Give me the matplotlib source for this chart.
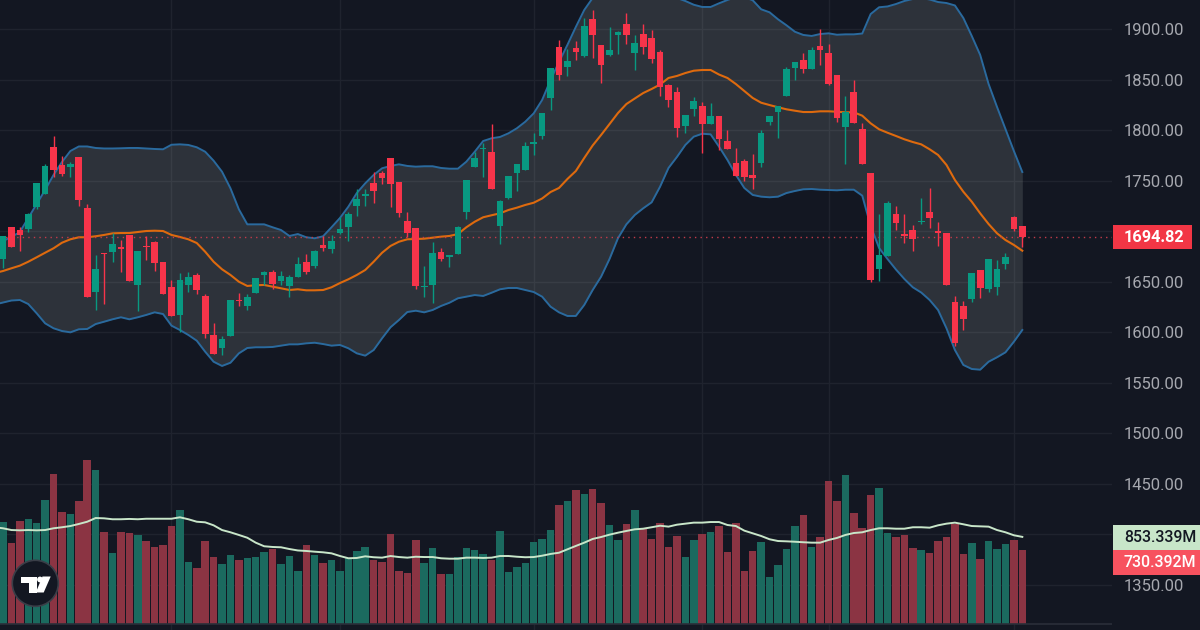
import numpy as np
import matplotlib
matplotlib.use('Agg')
import matplotlib.pyplot as plt
from matplotlib.patches import Rectangle, Ellipse, Polygon

# Velas
opens = [1672.9, 1704.0, 1701.3, 1702.0, 1723.8, 1737.2, 1783.5, 1765.7, 1764.0, 1773.6,
         1723.1, 1639.9, 1678.8, 1679.5, 1684.5, 1696.4, 1646.6, 1685.5, 1689.1, 1669.6,
         1644.6, 1617.1, 1646.6, 1656.7, 1636.0, 1597.3, 1584.5, 1596.4, 1632.3, 1626.1,
         1638.9, 1656.7, 1659.4, 1650.8, 1645.9, 1655.1, 1669.3, 1666.0, 1686.5, 1682.5,
         1698.0, 1704.0, 1725.1, 1734.7, 1748.1, 1757.4, 1772.3, 1749.1, 1710.2, 1703.0,
         1644.6, 1646.6, 1679.5, 1674.3, 1677.8, 1719.1, 1764.0, 1781.5, 1778.8, 1705.6,
         1732.7, 1757.7, 1760.7, 1786.4, 1794.7, 1832.0, 1882.5, 1862.7, 1881.5, 1873.9,
         1910.2, 1884.2, 1874.5, 1894.6, 1904.9, 1876.5, 1895.3, 1891.1, 1877.2, 1844.6,
         1837.9, 1804.3, 1821.4, 1824.1, 1806.5, 1813.9, 1789.1, 1767.6, 1769.3, 1755.7,
         1767.9, 1808.5, 1818.1, 1833.7, 1861.7, 1869.3, 1860.4, 1883.5, 1876.2, 1854.8,
         1803.0, 1838.2, 1801.3, 1757.4, 1663.0, 1675.3, 1716.8, 1697.3, 1701.0, 1708.9,
         1718.8, 1700.0, 1698.3, 1629.7, 1626.1, 1632.7, 1661.4, 1642.9, 1644.9, 1667.6,
         1714.2, 1705.6]
closes = [1695.4, 1684.8, 1696.4, 1716.8, 1747.5, 1765.0, 1760.7, 1756.7, 1766.6, 1731.0,
          1635.3, 1663.0, 1677.5, 1687.4, 1682.5, 1651.1, 1680.5, 1684.5, 1669.0, 1638.2,
          1615.9, 1651.8, 1654.8, 1641.9, 1598.3, 1578.8, 1593.4, 1631.7, 1630.7, 1635.3,
          1653.8, 1659.4, 1648.1, 1655.8, 1654.8, 1667.6, 1659.4, 1680.5, 1683.8, 1690.7,
          1702.0, 1716.8, 1731.7, 1736.9, 1739.9, 1752.8, 1746.8, 1717.8, 1698.3, 1645.9,
          1645.9, 1678.5, 1672.6, 1676.8, 1704.0, 1751.1, 1772.6, 1782.5, 1742.2, 1729.7,
          1754.8, 1766.6, 1784.5, 1788.1, 1816.8, 1862.0, 1855.0, 1868.6, 1877.5, 1903.3,
          1894.1, 1864.4, 1879.8, 1897.3, 1894.1, 1886.4, 1882.8, 1870.9, 1843.2, 1830.3,
          1802.3, 1814.9, 1829.0, 1805.9, 1814.2, 1791.4, 1781.8, 1754.8, 1753.8, 1753.1,
          1797.0, 1814.2, 1824.1, 1860.4, 1867.6, 1860.7, 1879.8, 1879.8, 1845.8, 1812.5,
          1818.4, 1807.5, 1766.9, 1652.1, 1676.6, 1728.0, 1708.5, 1695.7, 1692.1, 1709.9,
          1713.2, 1698.6, 1646.6, 1589.7, 1613.2, 1658.4, 1643.6, 1672.6, 1662.4, 1674.3,
          1702.0, 1694.82]
highs = [1695.4, 1704.0, 1704.6, 1718.1, 1747.5, 1766.6, 1794.4, 1774.6, 1768.6, 1773.6,
         1727.0, 1676.8, 1678.8, 1698.0, 1691.4, 1696.4, 1680.5, 1695.4, 1690.4, 1669.6,
         1651.8, 1658.4, 1659.4, 1658.4, 1637.9, 1608.9, 1596.4, 1631.7, 1638.9, 1637.9,
         1653.8, 1660.7, 1661.7, 1660.4, 1656.7, 1674.3, 1677.2, 1681.5, 1695.7, 1696.4,
         1713.9, 1719.4, 1741.9, 1741.9, 1758.7, 1759.4, 1772.3, 1749.1, 1718.8, 1703.0,
         1665.7, 1689.1, 1683.2, 1676.8, 1705.6, 1751.1, 1778.5, 1787.7, 1805.9, 1731.0,
         1754.8, 1766.6, 1788.1, 1797.3, 1816.8, 1862.0, 1889.4, 1880.5, 1888.4, 1911.2,
         1919.1, 1884.2, 1902.0, 1898.6, 1915.8, 1894.3, 1905.2, 1899.3, 1879.5, 1845.8,
         1842.6, 1814.9, 1832.7, 1828.0, 1827.0, 1813.9, 1800.3, 1782.5, 1771.9, 1776.2,
         1800.3, 1814.2, 1824.1, 1863.0, 1867.6, 1876.2, 1882.2, 1900.3, 1885.4, 1854.8,
         1833.7, 1849.5, 1807.5, 1757.4, 1716.8, 1729.7, 1725.1, 1716.8, 1706.5, 1733.0,
         1742.9, 1709.5, 1698.3, 1636.0, 1631.0, 1658.4, 1661.4, 1672.6, 1671.6, 1678.2,
         1715.2, 1705.6]
lows = [1664.0, 1684.8, 1680.8, 1699.6, 1721.8, 1737.2, 1753.5, 1755.1, 1754.1, 1725.4,
        1635.3, 1622.1, 1628.0, 1669.6, 1660.0, 1651.1, 1621.4, 1671.6, 1661.0, 1638.2,
        1615.9, 1600.6, 1639.9, 1638.2, 1594.7, 1578.8, 1577.5, 1596.4, 1626.1, 1622.1,
        1638.9, 1646.8, 1642.9, 1647.1, 1635.3, 1655.1, 1658.0, 1664.0, 1680.5, 1678.8,
        1697.3, 1690.1, 1715.2, 1725.1, 1728.0, 1746.5, 1724.4, 1714.5, 1694.1, 1642.9,
        1635.3, 1629.0, 1670.9, 1665.0, 1677.8, 1712.5, 1764.0, 1754.1, 1742.2, 1687.4,
        1731.7, 1740.2, 1760.7, 1775.5, 1791.1, 1819.8, 1850.1, 1853.8, 1869.9, 1872.9,
        1871.9, 1846.8, 1873.9, 1875.5, 1885.7, 1859.7, 1875.5, 1866.9, 1833.7, 1822.8,
        1793.7, 1797.6, 1814.5, 1777.8, 1806.5, 1780.8, 1781.8, 1754.8, 1750.1, 1741.9,
        1764.0, 1805.0, 1792.7, 1833.7, 1850.1, 1857.0, 1860.4, 1864.4, 1845.1, 1808.5,
        1766.9, 1806.9, 1766.9, 1650.1, 1651.1, 1675.3, 1701.0, 1688.1, 1680.8, 1707.2,
        1703.3, 1685.5, 1646.6, 1586.5, 1602.3, 1629.7, 1634.3, 1640.2, 1636.9, 1663.0,
        1700.3, 1684.8]

# Bandas de Bollinger y media de volumen: empiezan una vela antes, cortada por el borde
bb_upper = [1686.4,
            1690.4, 1694.4, 1699.3, 1713.2, 1727.0, 1740.9, 1755.8, 1768.6, 1779.5, 1784.0,
            1784.0, 1782.5, 1782.0, 1782.0, 1782.2, 1782.5, 1782.5, 1782.0, 1781.5, 1781.2,
            1785.7, 1786.1, 1785.5, 1783.2, 1778.8, 1769.9, 1759.0, 1742.6, 1721.8, 1706.9,
            1706.9, 1706.9, 1704.0, 1701.3, 1695.4, 1697.3, 1694.1, 1693.1, 1695.1, 1704.0,
            1713.2, 1724.4, 1737.9, 1747.5, 1755.8, 1762.4, 1764.7, 1766.3, 1764.7, 1764.0,
            1764.4, 1764.4, 1762.7, 1762.0, 1762.0, 1768.9, 1778.8, 1789.4, 1792.1, 1793.4,
            1797.0, 1802.0, 1808.5, 1816.8, 1830.0, 1849.8, 1867.6, 1884.5, 1902.3, 1919.1,
            1931.0, 1934.9, 1937.9, 1939.9, 1940.9, 1941.9, 1941.9, 1940.9, 1938.9, 1934.9,
            1931.0, 1928.0, 1924.3, 1922.1, 1922.1, 1925.7, 1929.0, 1932.0, 1932.0, 1928.7,
            1919.8, 1916.8, 1909.9, 1904.0, 1897.6, 1894.4, 1893.4, 1895.3, 1896.0, 1894.6,
            1895.0, 1895.0, 1895.8, 1915.1, 1921.8, 1922.6, 1925.0, 1928.0, 1930.0, 1931.0,
            1929.5, 1927.0, 1926.0, 1923.6, 1911.2, 1893.4, 1874.6, 1845.8, 1823.1, 1801.3,
            1779.5, 1758.7]
bb_mid = [1658.7,
          1660.7, 1663.4, 1666.0, 1669.9, 1674.3, 1678.8, 1683.2, 1688.7, 1692.1, 1694.1,
          1694.1, 1695.1, 1696.4, 1698.0, 1698.3, 1698.3, 1699.3, 1700.3, 1700.6, 1700.3,
          1696.4, 1694.4, 1692.1, 1688.4, 1679.8, 1669.9, 1662.4, 1656.8, 1650.1, 1645.9,
          1646.6, 1646.9, 1645.2, 1643.6, 1641.9, 1642.6, 1641.6, 1641.6, 1641.9, 1644.6,
          1648.8, 1652.5, 1656.8, 1661.7, 1669.9, 1678.8, 1685.5, 1689.7, 1692.1, 1692.4,
          1692.7, 1693.7, 1694.7, 1695.4, 1697.3, 1704.0, 1709.5, 1713.9, 1715.9, 1717.8,
          1721.1, 1723.4, 1726.1, 1728.3, 1732.5, 1738.9, 1742.9, 1751.8, 1759.7, 1772.6,
          1785.0, 1795.4, 1806.2, 1817.1, 1826.0, 1831.5, 1836.9, 1840.9, 1845.3, 1851.8,
          1853.8, 1856.7, 1859.0, 1859.7, 1859.7, 1855.2, 1851.8, 1845.8, 1838.9, 1832.0,
          1827.3, 1825.0, 1822.8, 1820.8, 1819.4, 1818.1, 1818.1, 1818.8, 1818.8, 1818.4,
          1817.8, 1817.8, 1814.5, 1806.9, 1801.0, 1797.6, 1794.4, 1791.1, 1788.4, 1786.1,
          1781.2, 1775.6, 1765.7, 1750.8, 1739.2, 1729.3, 1717.8, 1707.2, 1698.0, 1691.4,
          1686.5, 1680.8]
bb_lower = [1627.5,
            1629.5, 1631.5, 1632.0, 1628.0, 1618.8, 1608.9, 1604.0, 1601.3, 1600.0, 1603.0,
            1603.3, 1608.2, 1610.5, 1612.9, 1614.9, 1612.9, 1614.9, 1617.2, 1619.8, 1618.1,
            1606.6, 1602.3, 1597.4, 1591.7, 1580.8, 1570.9, 1566.7, 1569.9, 1579.2, 1584.5,
            1585.2, 1585.2, 1585.5, 1586.8, 1588.1, 1588.1, 1589.1, 1589.7, 1588.4, 1586.8,
            1587.5, 1584.2, 1579.2, 1576.9, 1582.5, 1594.1, 1605.0, 1612.2, 1620.1, 1621.4,
            1619.8, 1622.1, 1626.1, 1629.3, 1633.7, 1635.3, 1636.9, 1636.0, 1639.2, 1642.6,
            1643.9, 1643.9, 1641.9, 1639.9, 1635.3, 1625.4, 1619.8, 1616.2, 1616.2, 1627.1,
            1641.9, 1655.1, 1672.6, 1693.1, 1706.9, 1716.2, 1722.8, 1728.7, 1744.2, 1762.7,
            1773.6, 1785.5, 1793.7, 1796.6, 1796.0, 1783.8, 1770.6, 1755.8, 1742.9, 1736.0,
            1734.3, 1733.7, 1734.3, 1737.9, 1739.9, 1741.6, 1741.9, 1741.2, 1740.9, 1740.6,
            1741.2, 1741.2, 1735.3, 1705.3, 1683.5, 1672.6, 1662.2, 1652.8, 1644.6, 1639.4,
            1632.0, 1622.1, 1604.0, 1582.5, 1567.7, 1563.7, 1563.0, 1570.9, 1575.3, 1580.2,
            1590.7, 1602.3]

# Volumen en millones y su media
volume = [995, 794, 1005, 1030, 986, 1213, 1469, 1096, 1076, 1203,
          1605, 1505, 904, 693, 904, 894, 869, 813, 758, 774,
          959, 1112, 612, 550, 813, 657, 592, 674, 628, 648,
          657, 703, 738, 592, 667, 518, 774, 677, 596, 631,
          521, 645, 713, 755, 628, 612, 884, 521, 502, 823,
          596, 748, 492, 492, 655, 748, 723, 687, 631, 911,
          511, 557, 596, 804, 830, 920, 1161, 1203, 1307, 1271,
          1315, 1186, 969, 823, 979, 1115, 933, 833, 989, 752,
          862, 657, 823, 879, 904, 962, 703, 989, 521, 713,
          804, 460, 577, 732, 959, 1067, 752, 849, 1398, 1203,
          1453, 1086, 940, 1261, 1327, 888, 849, 869, 742, 723,
          696, 813, 849, 976, 687, 794, 638, 813, 738, 784,
          823, 730.392]
volume_ma = [947,
             937, 920, 917, 920, 917, 920, 937, 947, 959, 979,
             1001, 1037, 1034, 1025, 1025, 1028, 1025, 1030, 1030, 1030,
             1030, 1044, 1025, 1001, 995, 966, 920, 898, 872, 845,
             797, 762, 755, 752, 735, 721, 716, 709, 703, 693,
             667, 645, 648, 664, 655, 651, 667, 657, 651, 660,
             657, 657, 645, 641, 641, 651, 651, 648, 651, 667,
             667, 660, 655, 657, 670, 687, 699, 732, 765, 797,
             833, 852, 875, 894, 911, 927, 933, 947, 962, 953,
             972, 982, 992, 992, 998, 998, 969, 959, 914, 888,
             862, 830, 813, 810, 806, 801, 797, 797, 823, 843,
             872, 891, 898, 920, 937, 937, 933, 933, 947, 947,
             943, 966, 982, 992, 976, 959, 956, 953, 920, 898,
             869, 853.339]

price_ticks = [1350, 1400, 1450, 1500, 1550, 1600, 1650, 1700, 1750, 1800, 1850, 1900]
grid_bars = [20, 40, 63, 83, 98, 120]

BG = '#131722'
GREEN = '#089981'
RED = '#F7344A'
VOL_GREEN = '#1B6A5F'
VOL_RED = '#8B3443'

plt.rcParams['font.family'] = ['Roboto', 'DejaVu Sans']

o = np.array(opens)
c = np.array(closes)
x = np.arange(len(o))
x_lines = np.arange(-1, len(o))
up = c >= o
colors = [GREEN if u else RED for u in up]
vol_colors = [VOL_GREEN if u else VOL_RED for u in up]

fig = plt.figure(figsize=(12, 6.3), dpi=100, facecolor=BG)
ax = fig.add_axes([0, 0, 1112 / 1200, 1], facecolor=BG)

# cada vela ocupa 8.424 px, la primera centrada en x=3
ax.set_xlim(-3 / 8.424, (1112 - 3) / 8.424)
ax.set_ylim(1305.3, 1929.0)

ax.set_xticks(grid_bars)
ax.set_yticks(price_ticks)
ax.set_yticklabels(['' if t in (1400, 1700) else f'{t:.2f}' for t in price_ticks])
ax.yaxis.tick_right()
ax.tick_params(axis='y', length=0, pad=8.6, labelsize=12, labelcolor='#A6A8AF')
ax.tick_params(axis='x', length=0, labelbottom=False)
ax.grid(True, color='#1F232E', linewidth=1)
ax.set_axisbelow(True)
for s in ax.spines.values():
    s.set_visible(False)

ax.fill_between(x_lines, bb_lower, bb_upper, color='#E8F4E8', alpha=0.125, linewidth=0, zorder=1)
ax.plot(x_lines, bb_upper, color='#2A6A9E', linewidth=1.4, zorder=2)
ax.plot(x_lines, bb_lower, color='#2A6A9E', linewidth=1.4, zorder=2)
ax.plot(x_lines, bb_mid, color='#DE6A0E', linewidth=1.5, zorder=2)

ax.axhline(closes[-1], color='#C23B4A', linewidth=1, linestyle=(0, (1, 3)), zorder=2)

ax.vlines(x, lows, highs, colors=colors, linewidth=1, zorder=3)
ax.bar(x, c - o, bottom=o, width=0.79, color=colors, linewidth=0, zorder=4)

# panel de volumen, 0 en y=624.5 px
ax_vol = fig.add_axes([0, 0, 1112 / 1200, 1], sharex=ax, facecolor='none')
ax_vol.set_ylim(-53.6, 6082)
ax_vol.set_yticks([])
ax_vol.tick_params(axis='x', length=0, labelbottom=False)
for s in ax_vol.spines.values():
    s.set_visible(False)
ax_vol.bar(x, volume, width=0.89, color=vol_colors, linewidth=0, zorder=2)
ax_vol.plot(x_lines, volume_ma, color='#C8E6C9', linewidth=1.4, zorder=3)
ax_vol.axhline(0, color='#2A2E39', linewidth=1.2, zorder=4)


def label_box(x0, x1, y0, y1, text, bg, fg, size, bold=False):
    # caja de la escala derecha, en pixeles de la imagen
    fig.add_artist(Rectangle((x0 / 1200, 1 - y1 / 630), (x1 - x0) / 1200, (y1 - y0) / 630,
                             transform=fig.transFigure, facecolor=bg, edgecolor='none'))
    fig.text(1124 / 1200, 1 - (y0 + y1) / 2 / 630, text, color=fg, fontsize=size, va='center',
             ha='left', fontweight='bold' if bold else 'medium')


label_box(1113, 1191.5, 225, 249.5, f'{closes[-1]:.2f}', '#F23645', 'white', 11.7, bold=True)
label_box(1113, 1200, 525, 550, f'{volume_ma[-1]:.3f}M', '#C8E6C9', '#131722', 11.4)
label_box(1113, 1200, 550, 574.7, f'{volume[-1]:.3f}M', '#F7525F', 'white', 11.4)

# logo de TradingView


def px(pts):
    return [(a / 1200, 1 - b / 630) for a, b in pts]


fig.add_artist(Ellipse((35.3 / 1200, 1 - 583.3 / 630), 46 / 1200, 46 / 630, transform=fig.transFigure,
                       facecolor=BG, edgecolor='#3A3E48', linewidth=1.2))
fig.add_artist(Polygon(px([(20.5, 576.5), (37, 576.5), (37, 592.5), (28.7, 592.5), (28.7, 582.5), (20.5, 582.5)]),
                       transform=fig.transFigure, facecolor='white', edgecolor='none'))
fig.add_artist(Polygon(px([(42.5, 576.5), (50.7, 576.5), (43.7, 592.5), (35.8, 592.5)]),
                       transform=fig.transFigure, facecolor='white', edgecolor='none'))
fig.add_artist(Ellipse((40 / 1200, 1 - 579.5 / 630), 5.8 / 1200, 5.8 / 630, transform=fig.transFigure,
                       facecolor='white', edgecolor='none'))

fig.savefig('out.png', dpi=100, facecolor=BG)
